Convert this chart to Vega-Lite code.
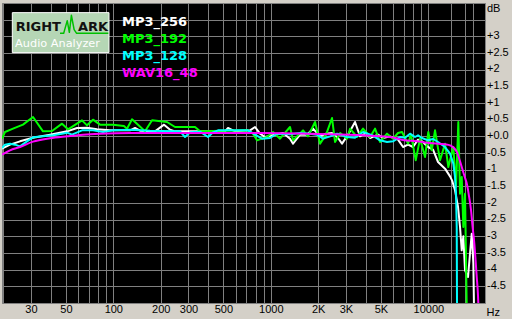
{
  "$schema": "https://vega.github.io/schema/vega-lite/v6.json",
  "width": 483,
  "height": 300,
  "autosize": {"type": "none"},
  "padding": {"left": 2, "top": 3, "right": 27, "bottom": 16},
  "background": "#D4D0C8",
  "config": {"view": {"fill": "#000000", "stroke": "#808080", "strokeWidth": 1}},
  "datasets": {
    "curves": [
      {"s":"MP3_256","f":19.65,"db":-0.37},{"s":"MP3_256","f":22.09,"db":-0.25},{"s":"MP3_256","f":25.56,"db":-0.15},{"s":"MP3_256","f":30.93,"db":-0.04},{"s":"MP3_256","f":39.65,"db":0.05},{"s":"MP3_256","f":50.83,"db":0.15},{"s":"MP3_256","f":58.85,"db":0.25},{"s":"MP3_256","f":68.09,"db":0.26},{"s":"MP3_256","f":78.8,"db":0.21},{"s":"MP3_256","f":95.3,"db":0.18},{"s":"MP3_256","f":127.7,"db":0.18},{"s":"MP3_256","f":137.4,"db":0.25},{"s":"MP3_256","f":147.8,"db":0.17},{"s":"MP3_256","f":184,"db":0.15},{"s":"MP3_256","f":209.9,"db":0.35},{"s":"MP3_256","f":229.4,"db":0.2},{"s":"MP3_256","f":246.5,"db":0.15},{"s":"MP3_256","f":512.2,"db":0.15},{"s":"MP3_256","f":535.1,"db":0.25},{"s":"MP3_256","f":592.8,"db":0.15},{"s":"MP3_256","f":738,"db":0.18},{"s":"MP3_256","f":793.9,"db":0.28},{"s":"MP3_256","f":854.2,"db":0.08},{"s":"MP3_256","f":919.1,"db":-0.02},{"s":"MP3_256","f":1063.5,"db":0.05},{"s":"MP3_256","f":1195.6,"db":0.1},{"s":"MP3_256","f":1324,"db":-0.07},{"s":"MP3_256","f":1384,"db":-0.22},{"s":"MP3_256","f":1533,"db":0.05},{"s":"MP3_256","f":1698,"db":0.05},{"s":"MP3_256","f":1854,"db":0.23},{"s":"MP3_256","f":2054,"db":0.0},{"s":"MP3_256","f":2242,"db":0.08},{"s":"MP3_256","f":2447,"db":0.1},{"s":"MP3_256","f":2672,"db":-0.05},{"s":"MP3_256","f":2832,"db":-0.22},{"s":"MP3_256","f":3092,"db":0.05},{"s":"MP3_256","f":3425,"db":0.43},{"s":"MP3_256","f":3685,"db":0.0},{"s":"MP3_256","f":4023,"db":0.1},{"s":"MP3_256","f":4265,"db":-0.05},{"s":"MP3_256","f":4794,"db":0.05},{"s":"MP3_256","f":5158,"db":-0.05},{"s":"MP3_256","f":5714,"db":0.0},{"s":"MP3_256","f":6422,"db":-0.1},{"s":"MP3_256","f":6909,"db":-0.32},{"s":"MP3_256","f":7433,"db":-0.25},{"s":"MP3_256","f":7997,"db":-0.32},{"s":"MP3_256","f":8604,"db":-0.1},{"s":"MP3_256","f":9122,"db":-0.15},{"s":"MP3_256","f":9958,"db":-0.32},{"s":"MP3_256","f":10713,"db":-0.4},{"s":"MP3_256","f":11525,"db":-0.77},{"s":"MP3_256","f":12766,"db":-0.97},{"s":"MP3_256","f":13734,"db":-1.2},{"s":"MP3_256","f":14141,"db":-1.32},{"s":"MP3_256","f":14776,"db":-1.62},{"s":"MP3_256","f":15438,"db":-2.12},{"s":"MP3_256","f":15897,"db":-2.72},{"s":"MP3_256","f":16297,"db":-3.42},{"s":"MP3_256","f":16683,"db":-3.0},{"s":"MP3_256","f":17103,"db":-4.02},{"s":"MP3_256","f":17870,"db":-4.22},{"s":"MP3_256","f":18401,"db":-3.5},{"s":"MP3_256","f":18864,"db":-2.92},{"s":"MP3_256","f":19311,"db":-3.8},{"s":"MP3_256","f":19510,"db":-5.2},

      {"s":"MP3_192","f":19.65,"db":-0.07},{"s":"MP3_192","f":20.53,"db":0.13},{"s":"MP3_192","f":23.08,"db":0.23},{"s":"MP3_192","f":26.71,"db":0.35},{"s":"MP3_192","f":30.93,"db":0.58},{"s":"MP3_192","f":35.79,"db":0.15},{"s":"MP3_192","f":40.82,"db":0.16},{"s":"MP3_192","f":47.25,"db":0.38},{"s":"MP3_192","f":51.58,"db":0.21},{"s":"MP3_192","f":63.29,"db":0.48},{"s":"MP3_192","f":68.09,"db":0.33},{"s":"MP3_192","f":74.33,"db":0.5},{"s":"MP3_192","f":82.35,"db":0.35},{"s":"MP3_192","f":99.6,"db":0.35},{"s":"MP3_192","f":116.9,"db":0.31},{"s":"MP3_192","f":122.2,"db":0.23},{"s":"MP3_192","f":131.5,"db":0.51},{"s":"MP3_192","f":159,"db":0.15},{"s":"MP3_192","f":176.2,"db":0.48},{"s":"MP3_192","f":219.3,"db":0.43},{"s":"MP3_192","f":246.5,"db":0.28},{"s":"MP3_192","f":330.3,"db":0.28},{"s":"MP3_192","f":355.3,"db":0.15},{"s":"MP3_192","f":512.2,"db":0.17},{"s":"MP3_192","f":716.6,"db":0.18},{"s":"MP3_192","f":771.1,"db":0.08},{"s":"MP3_192","f":817.5,"db":-0.12},{"s":"MP3_192","f":879.6,"db":-0.07},{"s":"MP3_192","f":946.3,"db":-0.02},{"s":"MP3_192","f":1032.9,"db":0.13},{"s":"MP3_192","f":1144,"db":-0.07},{"s":"MP3_192","f":1324,"db":0.28},{"s":"MP3_192","f":1384,"db":-0.12},{"s":"MP3_192","f":1602,"db":0.18},{"s":"MP3_192","f":1723,"db":0.0},{"s":"MP3_192","f":1909,"db":0.43},{"s":"MP3_192","f":2054,"db":-0.22},{"s":"MP3_192","f":2242,"db":0.05},{"s":"MP3_192","f":2447,"db":0.55},{"s":"MP3_192","f":2557,"db":-0.17},{"s":"MP3_192","f":2757,"db":0.1},{"s":"MP3_192","f":3047,"db":-0.07},{"s":"MP3_192","f":3184,"db":0.23},{"s":"MP3_192","f":3527,"db":-0.02},{"s":"MP3_192","f":3850,"db":0.23},{"s":"MP3_192","f":4265,"db":-0.02},{"s":"MP3_192","f":4589,"db":0.23},{"s":"MP3_192","f":4937,"db":-0.17},{"s":"MP3_192","f":5468,"db":0.08},{"s":"MP3_192","f":5970,"db":-0.07},{"s":"MP3_192","f":6422,"db":0.1},{"s":"MP3_192","f":6809,"db":0.13},{"s":"MP3_192","f":7433,"db":-0.22},{"s":"MP3_192","f":7767,"db":0.05},{"s":"MP3_192","f":8319,"db":-0.72},{"s":"MP3_192","f":8859,"db":-0.07},{"s":"MP3_192","f":9531,"db":-0.62},{"s":"MP3_192","f":10000,"db":0.13},{"s":"MP3_192","f":10511,"db":-0.42},{"s":"MP3_192","f":11030,"db":0.18},{"s":"MP3_192","f":11867,"db":-0.72},{"s":"MP3_192","f":12766,"db":-0.22},{"s":"MP3_192","f":13398,"db":-0.92},{"s":"MP3_192","f":14413,"db":-0.32},{"s":"MP3_192","f":14993,"db":-1.52},{"s":"MP3_192","f":15506,"db":0.43},{"s":"MP3_192","f":15897,"db":-1.72},{"s":"MP3_192","f":16297,"db":-1.22},{"s":"MP3_192","f":16683,"db":-2.72},{"s":"MP3_192","f":17103,"db":-1.72},{"s":"MP3_192","f":17355,"db":-3.72},{"s":"MP3_192","f":17534,"db":-5.2},

      {"s":"MP3_128","f":19.65,"db":-0.35},{"s":"MP3_128","f":20.53,"db":-0.25},{"s":"MP3_128","f":22.09,"db":-0.22},{"s":"MP3_128","f":23.77,"db":-0.25},{"s":"MP3_128","f":25.56,"db":-0.3},{"s":"MP3_128","f":28.32,"db":-0.15},{"s":"MP3_128","f":30.93,"db":-0.03},{"s":"MP3_128","f":35.79,"db":0.0},{"s":"MP3_128","f":41.42,"db":0.03},{"s":"MP3_128","f":47.25,"db":0.08},{"s":"MP3_128","f":50.83,"db":0.11},{"s":"MP3_128","f":54.69,"db":0.05},{"s":"MP3_128","f":63.29,"db":0.18},{"s":"MP3_128","f":74.33,"db":0.18},{"s":"MP3_128","f":86.04,"db":0.13},{"s":"MP3_128","f":99.6,"db":0.18},{"s":"MP3_128","f":127.7,"db":0.2},{"s":"MP3_128","f":171.2,"db":0.17},{"s":"MP3_128","f":246.5,"db":0.15},{"s":"MP3_128","f":265.2,"db":0.15},{"s":"MP3_128","f":285.3,"db":-0.02},{"s":"MP3_128","f":307.3,"db":0.12},{"s":"MP3_128","f":355.3,"db":0.14},{"s":"MP3_128","f":399.4,"db":-0.02},{"s":"MP3_128","f":429.7,"db":0.12},{"s":"MP3_128","f":462.1,"db":0.18},{"s":"MP3_128","f":716.6,"db":0.18},{"s":"MP3_128","f":793.9,"db":0.05},{"s":"MP3_128","f":879.6,"db":-0.07},{"s":"MP3_128","f":988.5,"db":-0.05},{"s":"MP3_128","f":1095,"db":0.08},{"s":"MP3_128","f":1324,"db":0.06},{"s":"MP3_128","f":1533,"db":0.1},{"s":"MP3_128","f":1774.5,"db":0.08},{"s":"MP3_128","f":1965.6,"db":0.05},{"s":"MP3_128","f":2145.8,"db":-0.07},{"s":"MP3_128","f":2382,"db":0.0},{"s":"MP3_128","f":2633,"db":0.08},{"s":"MP3_128","f":3047,"db":-0.02},{"s":"MP3_128","f":3425,"db":-0.04},{"s":"MP3_128","f":3850,"db":0.13},{"s":"MP3_128","f":4456,"db":0.02},{"s":"MP3_128","f":4937,"db":-0.12},{"s":"MP3_128","f":5468,"db":-0.17},{"s":"MP3_128","f":5970,"db":-0.15},{"s":"MP3_128","f":6613,"db":-0.02},{"s":"MP3_128","f":7114,"db":-0.04},{"s":"MP3_128","f":7654,"db":0.08},{"s":"MP3_128","f":8235,"db":-0.02},{"s":"MP3_128","f":8604,"db":0.03},{"s":"MP3_128","f":9122,"db":-0.05},{"s":"MP3_128","f":9958,"db":-0.12},{"s":"MP3_128","f":10713,"db":-0.08},{"s":"MP3_128","f":11525,"db":-0.17},{"s":"MP3_128","f":12766,"db":-0.32},{"s":"MP3_128","f":13734,"db":-0.52},{"s":"MP3_128","f":14413,"db":-0.82},{"s":"MP3_128","f":14776,"db":-1.22},{"s":"MP3_128","f":14993,"db":-1.72},{"s":"MP3_128","f":15147,"db":-2.72},{"s":"MP3_128","f":15214,"db":-5.2},

      {"s":"WAV16_48","f":19.65,"db":-0.55},{"s":"WAV16_48","f":22.09,"db":-0.42},{"s":"WAV16_48","f":25.56,"db":-0.32},{"s":"WAV16_48","f":30.93,"db":-0.16},{"s":"WAV16_48","f":39.65,"db":-0.06},{"s":"WAV16_48","f":50.83,"db":0.0},{"s":"WAV16_48","f":64.22,"db":0.05},{"s":"WAV16_48","f":82.35,"db":0.08},{"s":"WAV16_48","f":127.7,"db":0.1},{"s":"WAV16_48","f":854.2,"db":0.1},{"s":"WAV16_48","f":2382,"db":0.06},{"s":"WAV16_48","f":4265,"db":0.02},{"s":"WAV16_48","f":5714,"db":-0.02},{"s":"WAV16_48","f":6909,"db":-0.11},{"s":"WAV16_48","f":8478,"db":-0.15},{"s":"WAV16_48","f":10253,"db":-0.2},{"s":"WAV16_48","f":12766,"db":-0.24},{"s":"WAV16_48","f":13734,"db":-0.27},{"s":"WAV16_48","f":14561,"db":-0.35},{"s":"WAV16_48","f":15214,"db":-0.48},{"s":"WAV16_48","f":15897,"db":-0.75},{"s":"WAV16_48","f":16369,"db":-0.95},{"s":"WAV16_48","f":16979,"db":-1.2},{"s":"WAV16_48","f":17611,"db":-1.45},{"s":"WAV16_48","f":18134,"db":-1.8},{"s":"WAV16_48","f":18672,"db":-2.22},{"s":"WAV16_48","f":19085,"db":-2.7},{"s":"WAV16_48","f":19596,"db":-3.22},{"s":"WAV16_48","f":19942,"db":-3.7},{"s":"WAV16_48","f":20295,"db":-4.22},{"s":"WAV16_48","f":20684,"db":-4.8},{"s":"WAV16_48","f":20836,"db":-5.2}
    ],
    "logo": [
      {"f":45.9,"db":3.09},{"f":48.4,"db":3.09},{"f":51.0,"db":3.47},{"f":52.6,"db":3.12},{"f":54.2,"db":3.63},{"f":56.4,"db":3.2},{"f":58.5,"db":3.09},{"f":93.0,"db":3.09}
    ]
  },
  "encoding": {
    "x": {
      "type": "quantitative",
      "scale": {"type": "log", "domain": [19.65, 22900], "nice": false},
      "axis": {
        "values": [20,30,40,50,60,70,80,90,100,200,300,400,500,600,700,800,900,1000,2000,3000,4000,5000,6000,7000,8000,9000,10000,14000,17000,19300],
        "labelExpr": "indexof([30,50,100,200,300,500,1000,10000], datum.value) >= 0 ? '' + datum.value : (indexof([2000,3000,5000], datum.value) >= 0 ? (datum.value / 1000) + 'K' : '')",
        "orient": "bottom", "ticks": false, "domain": false,
        "grid": true, "gridColor": "#808080", "gridOpacity": 1, "gridWidth": 1,
        "labelOverlap": false, "labelBound": false, "labelFlush": false,
        "labelFont": "Liberation Sans", "labelFontSize": 11, "labelColor": "#000000", "labelPadding": 0,
        "title": "Hz", "titleFont": "Liberation Sans", "titleFontSize": 11, "titleFontWeight": "normal", "titleColor": "#000000",
        "titleAlign": "left", "titleBaseline": "alphabetic", "titleX": 484, "titleY": 12
      }
    },
    "y": {
      "type": "quantitative",
      "scale": {"domain": [-5, 4], "nice": false, "zero": false},
      "axis": {
        "values": [-4.5,-4,-3.5,-3,-2.5,-2,-1.5,-1,-0.5,0,0.5,1,1.5,2,2.5,3,3.5],
        "labelExpr": "datum.value > 3.2 ? '' : (datum.value == 0 ? '+0.0' : (datum.value > 0 ? '+' : '') + datum.value)",
        "orient": "right", "ticks": false, "domain": false,
        "grid": true, "gridColor": "#808080", "gridOpacity": 1, "gridWidth": 1,
        "labelOverlap": false, "labelBound": false, "labelFlush": false,
        "labelFont": "Liberation Sans", "labelFontSize": 11, "labelColor": "#000000", "labelPadding": 1.5,
        "labelAlign": "left", "labelBaseline": "middle", "labelOffset": -1,
        "title": "dB", "titleFont": "Liberation Sans", "titleFontSize": 11, "titleFontWeight": "normal", "titleColor": "#000000",
        "titleAngle": 0, "titleAlign": "left", "titleBaseline": "alphabetic", "titleX": 1.5, "titleY": 8.7
      }
    }
  },
  "layer": [
    {
      "data": {"name": "curves"},
      "encoding": {
        "x": {"field": "f", "type": "quantitative"},
        "y": {"field": "db", "type": "quantitative"},
        "color": {
          "field": "s", "type": "nominal",
          "scale": {"domain": ["MP3_256","MP3_192","MP3_128","WAV16_48"], "range": ["#FFFFFF","#00FF00","#00FFFF","#FF00FF"]},
          "legend": {
            "orient": "none", "legendX": 107, "legendY": 12.5, "direction": "vertical",
            "title": null, "padding": 0, "rowPadding": 3,
            "symbolSize": 0, "symbolStrokeWidth": 0, "symbolOpacity": 0, "labelOffset": 0,
            "labelFont": "DejaVu Sans", "labelFontSize": 13, "labelFontWeight": "bold",
            "encode": {"labels": {"update": {"fill": {"signal": "scale('color', datum.value)"}}}}
          }
        }
      },
      "layer": [
        {"transform": [{"filter": "datum.s == 'MP3_256'"}], "mark": {"type": "line", "strokeWidth": 2, "clip": true, "strokeJoin": "round"}},
        {"transform": [{"filter": "datum.s == 'MP3_192'"}], "mark": {"type": "line", "strokeWidth": 2, "clip": true, "strokeJoin": "round"}},
        {"transform": [{"filter": "datum.s == 'MP3_128'"}], "mark": {"type": "line", "strokeWidth": 2, "clip": true, "strokeJoin": "round"}},
        {"transform": [{"filter": "datum.s == 'WAV16_48'"}], "mark": {"type": "line", "strokeWidth": 2, "clip": true, "strokeJoin": "round", "interpolate": "monotone"}}
      ]
    },
    {
      "data": {"values": [{}]},
      "mark": {"type": "rect", "fill": "#B5D6B5", "stroke": "#FFFFFF", "strokeWidth": 1},
      "encoding": {
        "x": {"datum": 22.85},
        "x2": {"datum": 93.9},
        "y": {"datum": 3.711},
        "y2": {"datum": 2.511}
      }
    },
    {
      "data": {"name": "logo"},
      "mark": {"type": "line", "stroke": "#00C000", "strokeWidth": 1.5, "strokeJoin": "round"},
      "encoding": {
        "x": {"field": "f", "type": "quantitative"},
        "y": {"field": "db", "type": "quantitative"}
      }
    },
    {
      "data": {"values": [{}]},
      "mark": {"type": "text", "text": "RIGHT", "align": "left", "baseline": "alphabetic", "font": "DejaVu Sans", "fontSize": 13, "fontWeight": "bold", "fill": "#111111"},
      "encoding": {"x": {"datum": 24.0}, "y": {"datum": 3.16}}
    },
    {
      "data": {"values": [{}]},
      "mark": {"type": "text", "text": "ARK", "align": "left", "baseline": "alphabetic", "font": "DejaVu Sans", "fontSize": 13, "fontWeight": "bold", "fill": "#111111"},
      "encoding": {"x": {"datum": 59.7}, "y": {"datum": 3.16}}
    },
    {
      "data": {"values": [{}]},
      "mark": {"type": "text", "text": "Audio Analyzer", "align": "left", "baseline": "alphabetic", "font": "DejaVu Sans", "fontSize": 11.3, "fill": "#FFFFFF"},
      "encoding": {"x": {"datum": 23.8}, "y": {"datum": 2.68}}
    }
  ]
}
